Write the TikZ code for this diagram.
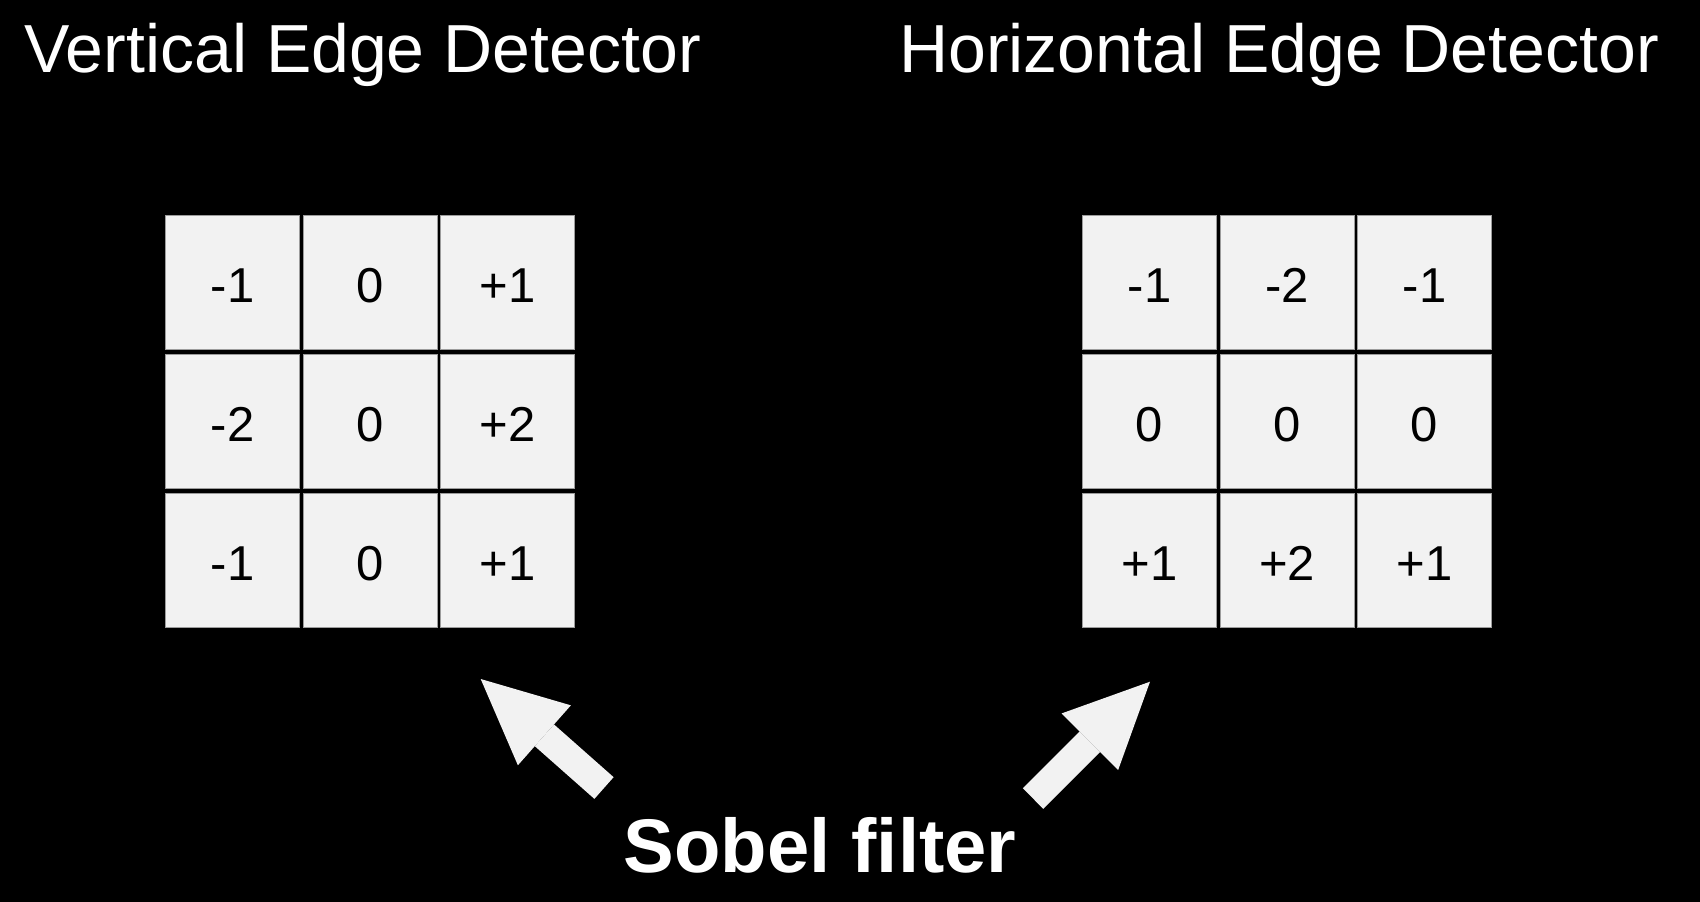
\documentclass[tikz,border=0pt]{standalone}
\usepackage{fontspec}
\setmainfont{Liberation Sans}
\usetikzlibrary{arrows.meta}
\definecolor{cellgray}{HTML}{F2F2F2}
\definecolor{edgegray}{HTML}{9C9C9C}

\begin{document}
\begin{tikzpicture}[x=1pt,y=-1pt,
    cellbox/.style={rectangle,fill=cellgray,draw=edgegray,line width=0.8pt,minimum width=134pt,minimum height=134pt,inner sep=0pt,text=black,text height=39pt,text depth=0pt,font=\fontsize{49}{49}\selectfont},
    title/.style={anchor=base west,inner sep=0pt,text=white,font=\fontsize{68}{68}\selectfont},
    bigarrow/.style={draw=cellgray,line width=29pt,-{Triangle[width=80pt,length=85pt,line width=0pt]}}]
    \fill[black] (0,0) rectangle (1700,902);
    \node[title] (vtitle) at (24,72) {Vertical Edge Detector};
    \node[title] (htitle) at (899,72) {Horizontal Edge Detector};
    % vertical kernel
    \node[cellbox] (v11) at (232.5,282.5) {-1};
    \node[cellbox] (v12) at (370,282.5) {0};
    \node[cellbox] (v13) at (507.5,282.5) {+1};
    \node[cellbox] (v21) at (232.5,421.5) {-2};
    \node[cellbox] (v22) at (370,421.5) {0};
    \node[cellbox] (v23) at (507.5,421.5) {+2};
    \node[cellbox] (v31) at (232.5,560.5) {-1};
    \node[cellbox] (v32) at (370,560.5) {0};
    \node[cellbox] (v33) at (507.5,560.5) {+1};
    % horizontal kernel
    \node[cellbox] (h11) at (1149.5,282.5) {-1};
    \node[cellbox] (h12) at (1287,282.5) {-2};
    \node[cellbox] (h13) at (1424.5,282.5) {-1};
    \node[cellbox] (h21) at (1149.5,421.5) {0};
    \node[cellbox] (h22) at (1287,421.5) {0};
    \node[cellbox] (h23) at (1424.5,421.5) {0};
    \node[cellbox] (h31) at (1149.5,560.5) {+1};
    \node[cellbox] (h32) at (1287,560.5) {+2};
    \node[cellbox] (h33) at (1424.5,560.5) {+1};
    \node[anchor=base,inner sep=0pt,text=white,font=\bfseries\fontsize{76}{76}\selectfont] (sobel) at (820,872) {Sobel filter};
    \coordinate (ltail) at (604,788);
    \coordinate (ltip) at (480.7,679);
    \coordinate (rtail) at (1033,798.5);
    \coordinate (rtip) at (1150,681.7);
    \draw[bigarrow] (ltail) -- (ltip);
    \draw[bigarrow] (rtail) -- (rtip);
\end{tikzpicture}
\end{document}
